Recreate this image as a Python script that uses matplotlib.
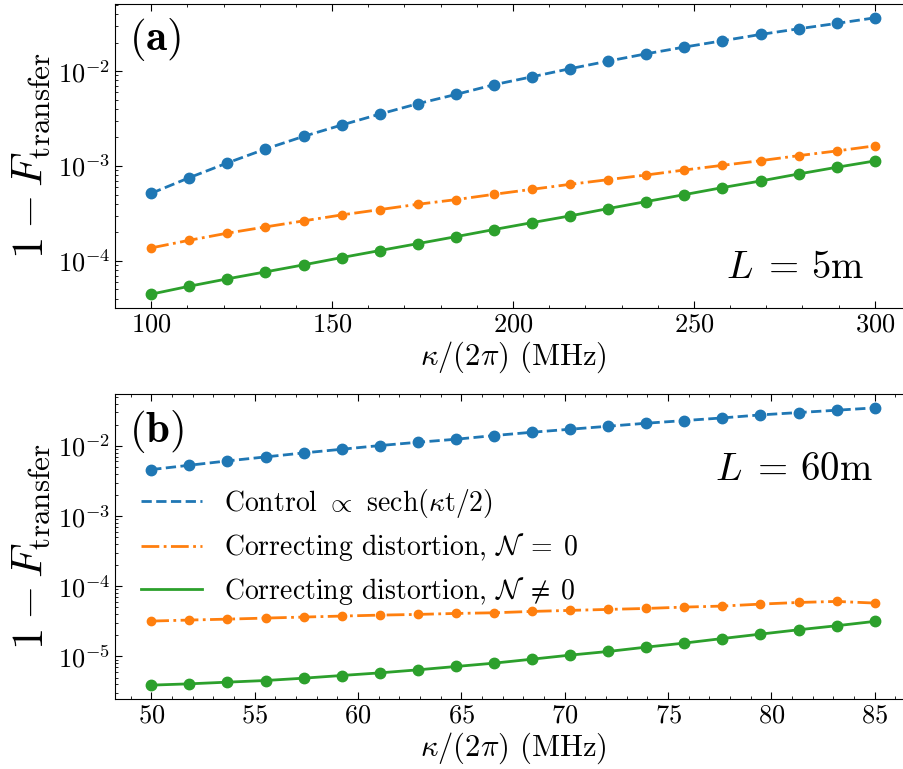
import numpy as np
import matplotlib
matplotlib.use("Agg")
import matplotlib.pyplot as plt
from matplotlib.ticker import MultipleLocator

plt.rcParams['font.family'] = 'serif'
plt.rcParams['font.serif'] = ['cmr10']
plt.rcParams['mathtext.fontset'] = 'cm'
plt.rcParams['axes.formatter.use_mathtext'] = True
plt.rcParams['axes.unicode_minus'] = True

# Panel (a): L = 5 m
kappa_a = [100.0, 110.53, 121.05, 131.58, 142.11, 152.63, 163.16, 173.68, 184.21, 194.74,
           205.26, 215.79, 226.32, 236.84, 247.37, 257.89, 268.42, 278.95, 289.47, 300.0]
control_a = [5.15e-4, 7.53e-4, 1.077e-3, 1.51e-3, 2.05e-3, 2.70e-3, 3.52e-3, 4.53e-3, 5.67e-3, 7.18e-3,
             8.71e-3, 1.06e-2, 1.274e-2, 1.521e-2, 1.79e-2, 2.085e-2, 2.432e-2, 2.79e-2, 3.178e-2, 3.64e-2]
corr0_a = [1.37e-4, 1.65e-4, 1.96e-4, 2.28e-4, 2.64e-4, 3.05e-4, 3.47e-4, 3.95e-4, 4.42e-4, 5.03e-4,
           5.68e-4, 6.41e-4, 7.18e-4, 8.04e-4, 9.07e-4, 1.016e-3, 1.138e-3, 1.285e-3, 1.44e-3, 1.63e-3]
corrN_a = [4.46e-5, 5.41e-5, 6.47e-5, 7.66e-5, 9.08e-5, 1.084e-4, 1.285e-4, 1.52e-4, 1.80e-4, 2.14e-4,
           2.53e-4, 2.98e-4, 3.56e-4, 4.22e-4, 4.99e-4, 5.92e-4, 6.95e-4, 8.24e-4, 9.69e-4, 1.13e-3]

# Panel (b): L = 60 m
kappa_b = [50.0, 51.84, 53.68, 55.53, 57.37, 59.21, 61.05, 62.89, 64.74, 66.58,
           68.42, 70.26, 72.11, 73.95, 75.79, 77.63, 79.47, 81.32, 83.16, 85.0]
control_b = [4.60e-3, 5.30e-3, 6.11e-3, 6.97e-3, 7.94e-3, 8.96e-3, 1.011e-2, 1.127e-2, 1.245e-2, 1.404e-2,
             1.566e-2, 1.728e-2, 1.908e-2, 2.106e-2, 2.297e-2, 2.506e-2, 2.766e-2, 2.989e-2, 3.227e-2, 3.485e-2]
corr0_b = [3.19e-5, 3.30e-5, 3.40e-5, 3.52e-5, 3.64e-5, 3.76e-5, 3.88e-5, 3.97e-5, 4.10e-5, 4.19e-5,
           4.38e-5, 4.53e-5, 4.68e-5, 4.83e-5, 5.05e-5, 5.22e-5, 5.57e-5, 5.88e-5, 6.08e-5, 5.76e-5]
corrN_b = [3.90e-6, 4.07e-6, 4.30e-6, 4.54e-6, 4.90e-6, 5.35e-6, 5.83e-6, 6.44e-6, 7.19e-6, 8.02e-6,
           9.14e-6, 1.044e-5, 1.178e-5, 1.358e-5, 1.55e-5, 1.80e-5, 2.08e-5, 2.40e-5, 2.74e-5, 3.16e-5]

labels = [r"Control $\propto$ sech($\kappa$t/2)",
          r"Correcting distortion, $\mathcal{N}\;=\;0$",
          r"Correcting distortion, $\mathcal{N}\;\neq\;0$"]
colors = ['#1f77b4', '#ff7f0e', '#2ca02c']
styles = ['--', '-.', '-']
msizes = [7.5, 6, 7.5]

fig = plt.figure(figsize=(9.04, 7.69), dpi=100)
W, H = 904.0, 769.0
ax_a = fig.add_axes([115 / W, 1 - 308 / H, 796 / W, 304 / H])
ax_b = fig.add_axes([115 / W, 1 - 699 / H, 796 / W, 305 / H])

def draw(ax, x, ys):
    for y, c, ls, ms, lab in zip(ys, colors, styles, msizes, labels):
        ax.plot(x, y, ls, color=c, lw=2, label=lab)
        ax.plot(x, y, 'o', color=c, ms=ms)
    ax.set_yscale('log')
    ax.tick_params(which='both', direction='in', top=True, right=True, labelsize=19)
    ax.tick_params(which='major', length=5)
    ax.tick_params(which='minor', length=2.5)
    ax.set_xlabel(r"$\kappa/(2\pi)$ (MHz)", fontsize=22, labelpad=2)
    ax.set_ylabel(r"$1-F_{\mathrm{transfer}}$", fontsize=32, labelpad=4)

draw(ax_a, kappa_a, [control_a, corr0_a, corrN_a])
ax_a.xaxis.set_major_locator(MultipleLocator(50))
ax_a.xaxis.set_minor_locator(MultipleLocator(10))
ax_a.text(0.018, 0.96, r"$\mathbf{(a)}$", transform=ax_a.transAxes, fontsize=31, va='top', ha='left')
ax_a.text(0.942, 0.10, r"$L\;=\,5\mathrm{m}$", transform=ax_a.transAxes, fontsize=28, va='baseline', ha='right')

draw(ax_b, kappa_b, [control_b, corr0_b, corrN_b])
ax_b.xaxis.set_major_locator(MultipleLocator(5))
ax_b.xaxis.set_minor_locator(MultipleLocator(1))
ax_b.text(0.018, 0.955, r"$\mathbf{(b)}$", transform=ax_b.transAxes, fontsize=31, va='top', ha='left')
ax_b.text(0.952, 0.718, r"$L\;=\,60\mathrm{m}$", transform=ax_b.transAxes, fontsize=28, va='baseline', ha='right')

handles, labs = ax_b.get_legend_handles_labels()
line_handles = [h for h, l in zip(handles, labs) if not l.startswith('_')]
ax_b.legend(line_handles, labels, loc='upper left', bbox_to_anchor=(0.008, 0.76), frameon=False,
            fontsize=20, handlelength=2.2, labelspacing=0.42, borderaxespad=0.3)

fig.savefig('out.png', dpi=100)
